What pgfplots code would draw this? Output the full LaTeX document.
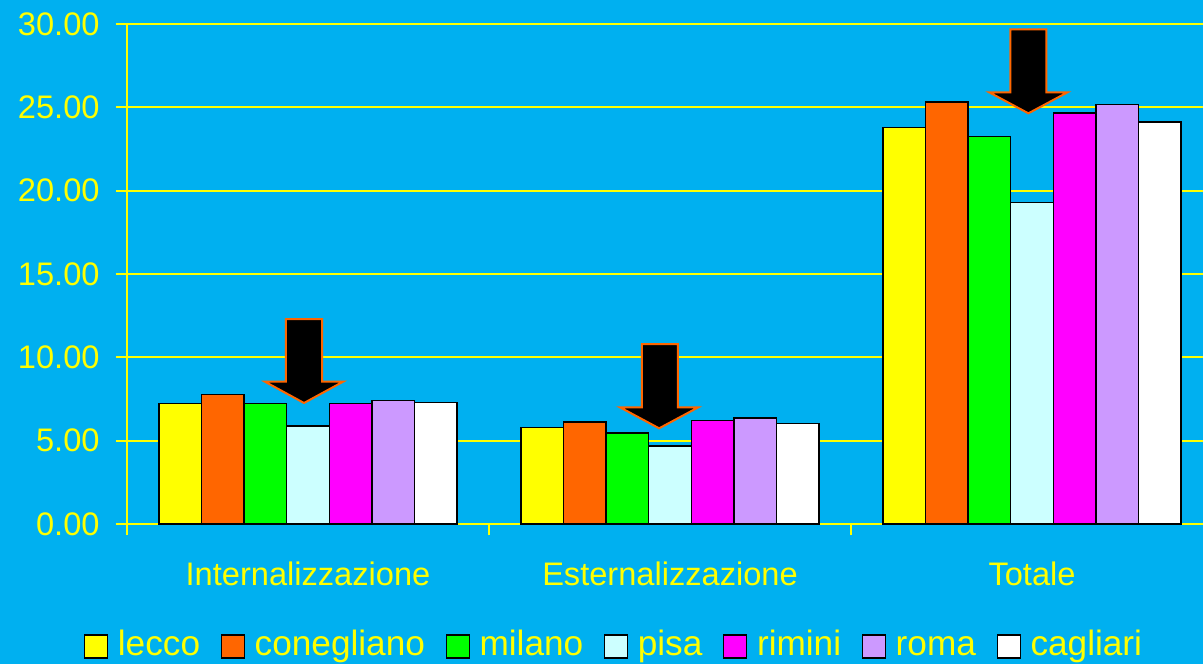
\documentclass[border=0pt]{standalone}
\usepackage{pgfplots}
\pgfplotsset{compat=1.18}
\usepackage{fontspec}
\setmainfont{Liberation Sans}
\definecolor{bgblue}{RGB}{0,176,240}
\definecolor{ylw}{RGB}{255,255,0}
\definecolor{orng}{RGB}{255,102,0}
\definecolor{grn}{RGB}{0,255,0}
\definecolor{pale}{RGB}{204,255,255}
\definecolor{mag}{RGB}{255,0,255}
\definecolor{lil}{RGB}{204,153,255}
\begin{document}
\begin{tikzpicture}
\fontsize{16.3}{19}\selectfont
\path[use as bounding box, fill=bgblue] (-63.5pt,-70pt) rectangle (538pt,262pt);
\begin{axis}[
  at={(0,0)}, anchor=south west, scale only axis,
  width=538pt, height=250pt,
  xmin=-0.5, xmax=2.4724, ymin=0, ymax=30,
  ybar=0pt, bar width=21.3pt,
  axis x line*=bottom, axis y line*=left,
  axis line style={ylw, line width=0.9pt},
  ymajorgrids, grid style={ylw, line width=0.9pt},
  tick align=outside, major tick length=5.5pt,
  tick style={ylw, line width=0.9pt},
  ytick={0,5,...,30},
  yticklabel style={/pgf/number format/.cd, fixed, fixed zerofill, precision=2, /tikz/.cd, text=ylw, font=\fontsize{16.3}{19}\selectfont, xshift=-2.6pt},
  /pgf/number format/assume math mode=true,
  xtick={0,1,2},
  xticklabels={Internalizzazione,Esternalizzazione,Totale},
  xtick style={draw=none},
  xticklabel style={text=ylw, font=\fontsize{16.3}{19}\selectfont, yshift=-8pt},
  extra x ticks={-0.5,0.5,1.5},
  extra x tick labels={},
  extra x tick style={grid=none, xtick style={draw=ylw}},
  legend style={at={(0.4535,-0.238)}, anchor=center, draw=none, fill=none,
    text=ylw, font=\fontsize{17.6}{21}\selectfont,
    legend columns=7,
    /tikz/every odd column/.append style={column sep=2.8pt},
    /tikz/every even column/.append style={column sep=8.3pt}},
  legend image code/.code={\draw[#1, draw=black, line width=0.7pt] (0pt,-7.4pt) rectangle (11.5pt,4.1pt);},
  clip=false,
]
\addplot[fill=ylw, draw=black, line width=0.7pt] coordinates {(0,7.22) (1,5.80) (2,23.80)};
\addplot[fill=orng, draw=black, line width=0.7pt] coordinates {(0,7.78) (1,6.12) (2,25.32)};
\addplot[fill=grn, draw=black, line width=0.7pt] coordinates {(0,7.22) (1,5.46) (2,23.26)};
\addplot[fill=pale, draw=black, line width=0.7pt] coordinates {(0,5.88) (1,4.68) (2,19.28)};
\addplot[fill=mag, draw=black, line width=0.7pt] coordinates {(0,7.22) (1,6.22) (2,24.66)};
\addplot[fill=lil, draw=black, line width=0.7pt] coordinates {(0,7.40) (1,6.36) (2,25.16)};
\addplot[fill=white, draw=black, line width=0.7pt] coordinates {(0,7.30) (1,6.04) (2,24.12)};
\legend{\strut lecco,\strut conegliano,\strut milano,\strut pisa,\strut rimini,\strut roma,\strut cagliari}
\draw[fill=black, draw=orng, line width=1pt] (axis cs:-0.061,12.3) -- (axis cs:0.039,12.3) -- (axis cs:0.039,8.54) -- (axis cs:0.097,8.54) -- (axis cs:-0.011,7.26) -- (axis cs:-0.119,8.54) -- (axis cs:-0.061,8.54) -- cycle;
\draw[fill=black, draw=orng, line width=1pt] (axis cs:0.922,10.8) -- (axis cs:1.022,10.8) -- (axis cs:1.022,7.0) -- (axis cs:1.078,7.0) -- (axis cs:0.970,5.74) -- (axis cs:0.862,7.0) -- (axis cs:0.922,7.0) -- cycle;
\draw[fill=black, draw=orng, line width=1pt] (axis cs:1.940,29.68) -- (axis cs:2.040,29.68) -- (axis cs:2.040,25.9) -- (axis cs:2.098,25.9) -- (axis cs:1.990,24.64) -- (axis cs:1.882,25.9) -- (axis cs:1.940,25.9) -- cycle;
\end{axis}
\end{tikzpicture}
\end{document}
